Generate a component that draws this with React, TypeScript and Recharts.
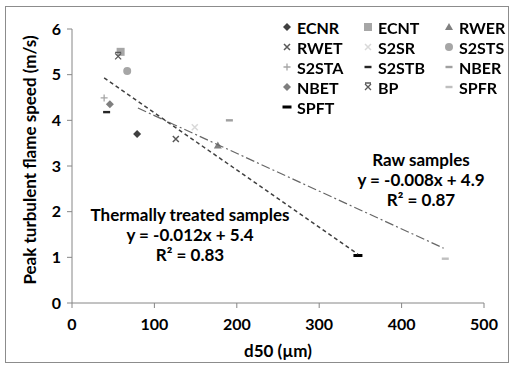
import React from "react"
import {
  ScatterChart,
  Scatter,
  XAxis,
  YAxis,
} from "recharts"

// sample names, grain size d50 (µm), peak turbulent flame speed (m/s)
const sampleNames = [
  "ECNR", "ECNT", "RWER",
  "RWET", "S2SR", "S2STS",
  "S2STA", "S2STB", "NBER",
  "NBET", "BP", "SPFR",
  "SPFT",
]
const d50Values = [79, 59, 177, 126, 149, 67, 39, 42, 191, 46, 56, 453, 347]
const speedValues = [3.7, 5.5, 3.45, 3.59, 3.85, 5.08, 4.49, 4.18, 4.0, 4.35, 5.4, 0.97, 1.04]
const markerKinds = [
  "diamond", "square", "triangle",
  "x", "x", "circle",
  "plus", "dash", "dash",
  "diamond", "star", "dash",
  "bar",
]
const markerColors = [
  "#404040", "#a6a6a6", "#808080",
  "#595959", "#d9d9d9", "#a6a6a6",
  "#a6a6a6", "#262626", "#a0a0a0",
  "#7f7f7f", "#595959", "#bfbfbf",
  "#000000",
]

// trendline end points
const thermalX = [39, 347]
const thermalY = [4.93, 1.07]
const rawX = [80, 451]
const rawY = [4.27, 1.2]

const xTicks = [0, 100, 200, 300, 400, 500]
const yTicks = [0, 1, 2, 3, 4, 5, 6]

const FONT = "Lato, 'Open Sans', sans-serif"

function Marker({ kind, color, cx, cy }: { kind: string; color: string; cx: number; cy: number }) {
  switch (kind) {
    case "diamond":
      return <path d={`M${cx},${cy - 4} L${cx + 4},${cy} L${cx},${cy + 4} L${cx - 4},${cy} Z`} fill={color} />
    case "square":
      return <rect x={cx - 4} y={cy - 4} width={8} height={8} fill={color} />
    case "triangle":
      return <path d={`M${cx},${cy - 4} L${cx + 4},${cy + 3} L${cx - 4},${cy + 3} Z`} fill={color} />
    case "circle":
      return <circle cx={cx} cy={cy} r={4} fill={color} />
    case "x":
      return (
        <path
          d={`M${cx - 3},${cy - 3} L${cx + 3},${cy + 3} M${cx + 3},${cy - 3} L${cx - 3},${cy + 3}`}
          stroke={color}
          strokeWidth={1.5}
        />
      )
    case "star":
      return (
        <path
          d={`M${cx - 3},${cy - 3} L${cx + 3},${cy + 3} M${cx + 3},${cy - 3} L${cx - 3},${cy + 3} M${cx - 3},${cy - 4} L${cx + 3},${cy - 4}`}
          stroke={color}
          strokeWidth={1.3}
        />
      )
    case "plus":
      return (
        <path
          d={`M${cx - 3.5},${cy} L${cx + 3.5},${cy} M${cx},${cy - 3.5} L${cx},${cy + 3.5}`}
          stroke={color}
          strokeWidth={1.3}
        />
      )
    case "dash":
      return <rect x={cx - 3.5} y={cy - 1.2} width={7} height={2.4} fill={color} />
    case "bar":
      return <rect x={cx - 4.5} y={cy - 1.5} width={9} height={3} fill={color} />
    default:
      return null
  }
}

function LegendGrid() {
  return (
    <div
      style={{
        position: "absolute",
        left: 281,
        top: 17,
        display: "grid",
        gridTemplateColumns: "81px 81px 70px",
        fontFamily: FONT,
        fontWeight: 700,
        fontSize: 16,
        color: "#000",
      }}
    >
      {sampleNames.map((name, i) => (
        <div key={name} style={{ display: "flex", alignItems: "center", height: 20 }}>
          <svg width={12} height={12} style={{ marginRight: 4 }}>
            <Marker kind={markerKinds[i]} color={markerColors[i]} cx={6} cy={6} />
          </svg>
          <span>{name}</span>
        </div>
      ))}
    </div>
  )
}

const textStyle: React.CSSProperties = {
  position: "absolute",
  fontFamily: FONT,
  fontWeight: 700,
  fontSize: 17,
  color: "#000",
  textAlign: "center",
  lineHeight: "20px",
  whiteSpace: "nowrap",
  transform: "translateX(-50%)",
}

export default function App() {
  const points = sampleNames.map((name, i) => ({ name, x: d50Values[i], y: speedValues[i] }))
  const thermal = thermalX.map((x, i) => ({ x, y: thermalY[i] }))
  const raw = rawX.map((x, i) => ({ x, y: rawY[i] }))

  return (
    <div style={{ position: "fixed", left: 0, top: 0, width: 512, height: 365, background: "#fff" }}>
      <div
        style={{
          position: "absolute",
          left: 5,
          top: 6,
          width: 502,
          height: 355,
          border: "1px solid #8c8c8c",
        }}
      />
      <ScatterChart width={512} height={365} margin={{ top: 29, right: 28, bottom: 22, left: 22 }}>
        <XAxis
          type="number"
          dataKey="x"
          domain={[0, 500]}
          ticks={xTicks}
          stroke="#868686"
          tickSize={5}
          tick={{ fill: "#000", fontFamily: FONT, fontWeight: 700, fontSize: 16 }}
          tickMargin={11}
          height={40}
          label={{
            value: "d50 (µm)",
            position: "insideBottom",
            offset: -14,
            fill: "#000",
            fontFamily: FONT,
            fontWeight: 700,
            fontSize: 17,
          }}
        />
        <YAxis
          type="number"
          dataKey="y"
          domain={[0, 6]}
          ticks={yTicks}
          stroke="#868686"
          tickSize={5}
          width={50}
          tick={{ fill: "#000", fontFamily: FONT, fontWeight: 700, fontSize: 16 }}
          tickMargin={6}
          label={{
            value: "Peak turbulent flame speed (m/s)",
            angle: -90,
            position: "insideLeft",
            offset: 8,
            dy: -6,
            style: { textAnchor: "middle" },
            fill: "#000",
            fontFamily: FONT,
            fontWeight: 700,
            fontSize: 17,
          }}
        />
        {points.map((p, i) => (
          <Scatter
            key={p.name}
            name={p.name}
            data={[p]}
            fill={markerColors[i]}
            isAnimationActive={false}
            shape={(props: any) => (
              <Marker kind={markerKinds[i]} color={markerColors[i]} cx={props.cx} cy={props.cy} />
            )}
          />
        ))}
        <Scatter
          name="thermal trend"
          data={thermal}
          legendType="none"
          isAnimationActive={false}
          line={{ stroke: "#404040", strokeWidth: 1.5, strokeDasharray: "4 3" }}
          shape={() => <g />}
        />
        <Scatter
          name="raw trend"
          data={raw}
          legendType="none"
          isAnimationActive={false}
          line={{ stroke: "#666666", strokeWidth: 1.2, strokeDasharray: "9 3 2 3" }}
          shape={() => <g />}
        />
      </ScatterChart>
      <LegendGrid />
      <div style={{ ...textStyle, left: 190, top: 205 }}>
        Thermally treated samples
        <br />y = -0.012x + 5.4
        <br />R² = 0.83
      </div>
      <div style={{ ...textStyle, left: 421, top: 150 }}>
        Raw samples
        <br />y = -0.008x + 4.9
        <br />R² = 0.87
      </div>
    </div>
  )
}
